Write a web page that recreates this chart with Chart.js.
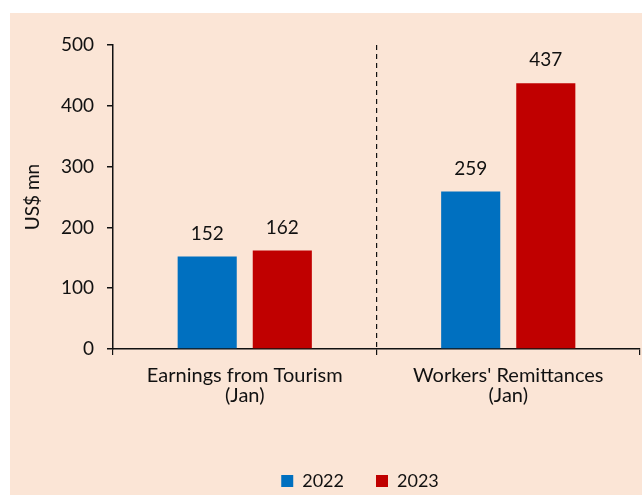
<!DOCTYPE html>
<html>
<head>
<meta charset="utf-8">
<script src="https://cdn.jsdelivr.net/npm/chart.js@4/dist/chart.umd.min.js"></script>
<style>
  html, body { margin: 0; padding: 0; background: #ffffff; }
  #wrap {
    position: absolute;
    left: 10px; top: 13px;
    width: 632px; height: 482px;
    background: #FBE5D6;
  }
</style>
</head>
<body>
<div id="wrap"><canvas id="chart"></canvas></div>
<script>
const categories = [['Earnings from Tourism', '(Jan)'], ["Workers' Remittances", '(Jan)']];
const values2022 = [152, 259];
const values2023 = [162, 437];
const seriesNames = ['2022', '2023'];

const FONT = 'Lato, "Open Sans", sans-serif';
Chart.defaults.font.family = FONT;
Chart.defaults.font.size = 19;
Chart.defaults.color = '#111111';

// value labels above the bars
const barLabels = {
  id: 'barLabels',
  afterDatasetsDraw(chart) {
    const ctx = chart.ctx;
    ctx.save();
    ctx.font = '19px ' + FONT;
    ctx.fillStyle = '#111111';
    ctx.textAlign = 'center';
    ctx.textBaseline = 'alphabetic';
    chart.data.datasets.forEach((ds, i) => {
      chart.getDatasetMeta(i).data.forEach((bar, j) => {
        ctx.fillText(ds.data[j], bar.x, bar.y - 17);
      });
    });
    ctx.restore();
  }
};

// legend sits a bit right of centre and lower in the original
const legendShift = {
  id: 'legendShift',
  afterLayout(chart) {
    const lg = chart.legend;
    lg.left += 35; lg.right += 35;
    lg.top += 9; lg.bottom += 9;
  }
};

const canvas = document.getElementById('chart');
new Chart(canvas.getContext('2d'), {
  type: 'bar',
  data: {
    labels: categories,
    datasets: [
      { label: seriesNames[0], data: values2022, backgroundColor: '#0070C0' },
      { label: seriesNames[1], data: values2023, backgroundColor: '#C00000' }
    ]
  },
  options: {
    responsive: true,
    maintainAspectRatio: false,
    animation: false,
    categoryPercentage: 0.57,
    barPercentage: 0.787,
    layout: { padding: { top: 32, right: 2, left: 0, bottom: 4 } },
    plugins: {
      tooltip: { enabled: false },
      legend: {
        position: 'bottom',
        labels: {
          boxWidth: 12,
          boxHeight: 12,
          padding: 32,
          color: '#111111',
          font: { size: 18 }
        }
      }
    },
    scales: {
      x: {
        afterFit(scale) { scale.height = 82; },
        grid: {
          offset: true,
          drawOnChartArea: true,
          color: ctx => ctx.index === 1 ? '#111111' : 'rgba(0,0,0,0)',
          tickColor: '#111111',
          tickLength: 6,
          lineWidth: 1.2
        },
        border: { display: true, color: '#111111', width: 1.5, dash: [5, 4] },
        ticks: { padding: 11, maxRotation: 0, color: '#111111', font: { size: 20, lineHeight: 1.0 } }
      },
      y: {
        min: 0,
        max: 500,
        afterFit(scale) { scale.width = 103; },
        ticks: { stepSize: 100, padding: 13, color: '#111111' },
        grid: {
          drawOnChartArea: false,
          tickColor: '#111111',
          tickLength: 6,
          lineWidth: 1.5
        },
        border: { display: true, color: '#111111', width: 1.5 },
        title: {
          display: true,
          text: 'US$ mn',
          color: '#111111',
          font: { size: 19 },
          padding: { top: 11, bottom: 0 }
        }
      }
    }
  },
  plugins: [barLabels, legendShift]
});
</script>
</body>
</html>
